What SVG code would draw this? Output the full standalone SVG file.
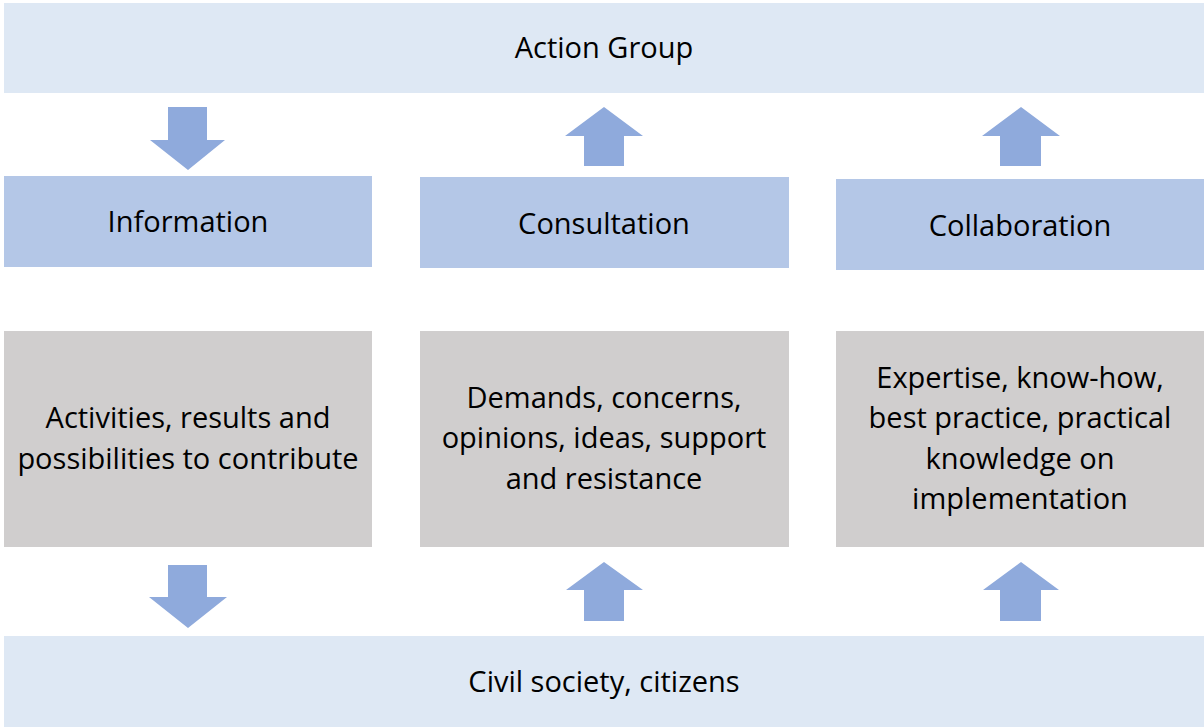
<svg xmlns="http://www.w3.org/2000/svg" width="1204" height="727" viewBox="0 0 1204 727">
<style>
.bar{fill:#DEE8F4}
.mid{fill:#B4C7E7}
.gray{fill:#D0CECE}
.arr{fill:#8FAADC}
text{font-family:"Open Sans","Liberation Sans",sans-serif;font-size:29px;fill:#000;text-anchor:middle}
</style>
<rect width="1204" height="727" fill="#fff"/>
<g id="action-group"><rect class="bar" x="4" y="3" width="1200" height="90"/><text x="604" y="58">Action Group</text></g>
<g id="information"><rect class="mid" x="4" y="176" width="368" height="91"/><text x="188" y="232">Information</text></g>
<g id="consultation"><rect class="mid" x="420" y="177" width="369" height="91"/><text x="604" y="234">Consultation</text></g>
<g id="collaboration"><rect class="mid" x="836" y="179" width="368" height="91"/><text x="1020" y="236">Collaboration</text></g>
<g id="info-content"><rect class="gray" x="4" y="331" width="368" height="216"/><text x="188" y="428">Activities, results and</text><text x="188" y="469">possibilities to contribute</text></g>
<g id="consult-content"><rect class="gray" x="420" y="331" width="369" height="216"/><text x="604" y="408">Demands, concerns,</text><text x="604" y="448">opinions, ideas, support</text><text x="604" y="489">and resistance</text></g>
<g id="collab-content"><rect class="gray" x="836" y="331" width="368" height="216"/><text x="1020" y="388">Expertise, know-how,</text><text x="1020" y="428">best practice, practical</text><text x="1020" y="469">knowledge on</text><text x="1020" y="509">implementation</text></g>
<g id="civil-society"><rect class="bar" x="4" y="636" width="1200" height="91"/><text x="604" y="692">Civil society, citizens</text></g>
<g id="connectors">
<polygon class="arr" points="168,107 207,107 207,140 225,140 188,170 150,140 168,140"/>
<polygon class="arr" points="604,107 643,136 624,136 624,166 584,166 584,136 565,136"/>
<polygon class="arr" points="1021,107 1060,136 1041,136 1041,166 1000,166 1000,136 982,136"/>
<polygon class="arr" points="168,565 207,565 207,597 227,597 188,628 149,597 168,597"/>
<polygon class="arr" points="604,562 643,590 624,590 624,621 584,621 584,590 566,590"/>
<polygon class="arr" points="1021,562 1059,590 1041,590 1041,621 1000,621 1000,590 983,590"/>
</g>
</svg>
